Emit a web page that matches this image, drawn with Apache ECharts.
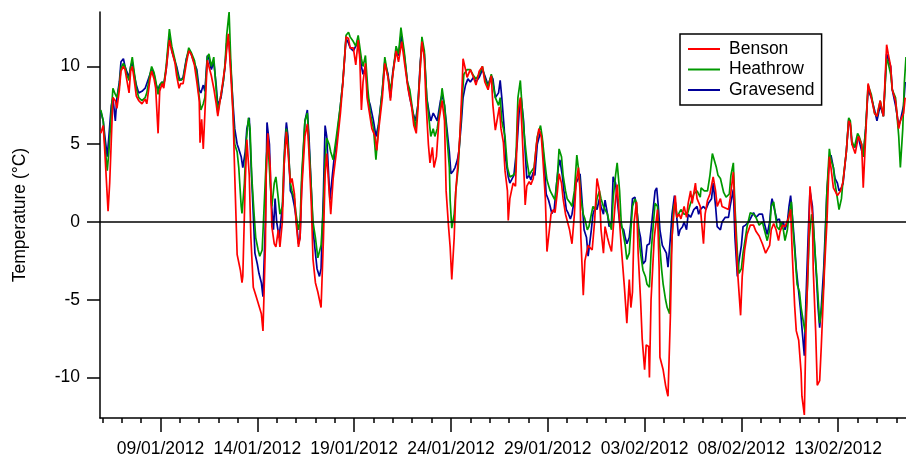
<!DOCTYPE html>
<html><head><meta charset="utf-8">
<script src="https://cdn.jsdelivr.net/npm/echarts/dist/echarts.min.js"></script>
<style>html,body{margin:0;padding:0;background:#fff}#chart{width:906px;height:458px}</style>
</head><body><div id="chart"></div>
<script>
// hour 0 = 05/01/2012 21:00 (UTC); pairs are [hours since start, temperature °C]
const startYear = 2012, startMonth = 0, startDay = 5, startHour = 21;
const endHour = 999;
const seriesNames = ['Benson', 'Heathrow', 'Gravesend'];

const benson = [[1,5.7],[4,6.2],[6,4.5],[10,0.7],[12,2.5],[16,8.0],[19,7.8],[21,7.3],[24,8.5],[26,9.7],[29,10.0],[31,9.8],[33,9.2],[36,8.3],[38,9.7],[40,10.0],[42,9.3],[45,8.1],[48,7.8],[52,7.6],[56,7.9],[58,7.6],[62,9.2],[64,9.7],[67,9.2],[69,8.6],[72,5.7],[74,8.4],[77,8.9],[79,8.6],[82,9.8],[86,11.7],[89,11.0],[93,10.2],[95,9.4],[98,8.6],[100,8.9],[103,8.9],[107,10.2],[110,11.0],[113,10.8],[117,10.1],[120,9.0],[123,7.8],[124,5.1],[126,6.6],[128,4.7],[130,7.0],[133,10.4],[135,10.0],[138,9.4],[141,8.6],[144,7.6],[146,6.8],[150,8.2],[153,9.3],[155,10.0],[159,12.1],[161,10.5],[165,6.8],[167,3.0],[170,-2.1],[174,-3.1],[176,-3.9],[177,-3.5],[180,2.5],[182,5.3],[185,3.0],[187,-1.0],[190,-4.2],[193,-4.7],[196,-5.2],[200,-5.9],[202,-7.0],[205,-1.5],[206,3.0],[208,5.7],[211,3.5],[213,-0.3],[216,-1.4],[218,-1.6],[221,-0.5],[223,-1.6],[226,0.0],[228,3.5],[231,5.8],[233,4.5],[236,2.5],[238,2.8],[241,1.8],[243,0.0],[246,-1.6],[248,-1.0],[250,2.0],[254,5.5],[257,6.3],[259,4.5],[262,1.0],[264,-2.4],[267,-3.9],[270,-4.5],[274,-5.5],[277,-1.0],[279,3.0],[281,4.4],[284,2.0],[286,0.5],[289,2.8],[293,4.5],[298,7.0],[301,8.9],[305,11.9],[308,11.8],[310,11.2],[314,11.2],[317,10.1],[320,11.7],[322,10.5],[324,7.2],[326,9.0],[329,10.2],[331,8.0],[334,7.0],[337,6.0],[341,5.5],[343,4.6],[346,6.2],[350,8.0],[353,10.2],[357,9.3],[360,7.8],[363,9.5],[367,11.0],[370,10.3],[374,11.6],[378,10.0],[382,8.5],[386,7.5],[389,6.2],[392,5.7],[394,7.2],[397,10.0],[399,11.6],[402,10.5],[404,7.8],[407,5.0],[409,3.8],[412,4.8],[414,3.5],[417,4.2],[420,6.5],[424,7.8],[427,6.5],[429,2.0],[432,-0.3],[434,-1.6],[436,-3.7],[439,-1.0],[441,2.0],[444,4.0],[446,5.5],[449,9.0],[450,10.5],[453,9.8],[455,9.3],[459,9.8],[463,9.3],[466,8.8],[470,9.7],[474,10.0],[477,9.0],[481,8.5],[485,9.4],[487,7.5],[490,5.9],[492,6.5],[495,7.4],[497,6.0],[500,5.1],[502,3.3],[505,2.0],[506,0.1],[508,1.5],[512,2.5],[515,2.3],[518,7.0],[521,8.0],[523,6.0],[526,2.5],[527,1.1],[529,2.3],[532,2.6],[534,2.4],[537,2.8],[541,5.0],[544,6.0],[547,5.5],[549,4.0],[552,1.5],[554,-1.9],[557,-0.5],[559,0.5],[562,0.8],[564,0.6],[567,2.0],[569,3.1],[572,2.5],[574,1.5],[577,0.5],[579,0.6],[582,-0.5],[585,-1.4],[588,0.5],[590,2.5],[593,3.5],[595,2.0],[596,-1.0],[599,-4.7],[601,-2.5],[605,-1.5],[610,-1.8],[613,0.0],[616,2.8],[619,2.0],[621,-0.5],[624,-2.0],[626,-0.3],[629,-1.0],[631,-1.4],[634,-1.9],[636,-0.5],[639,1.5],[641,2.4],[644,0.0],[646,-1.5],[647,-2.2],[650,-4.2],[653,-6.5],[656,-3.7],[658,-5.5],[660,-4.5],[662,0.0],[665,1.3],[667,-2.0],[670,-5.0],[672,-7.5],[675,-9.5],[677,-7.9],[680,-8.0],[681,-10.0],[683,-5.0],[687,-1.0],[691,0.8],[693,-3.0],[694,-8.7],[698,-9.5],[701,-10.5],[703,-11.0],[704,-11.2],[707,-6.0],[709,-1.0],[713,1.7],[715,0.3],[718,0.5],[720,0.2],[724,1.0],[727,0.3],[729,1.2],[732,2.0],[734,1.2],[738,2.5],[740,1.5],[744,1.0],[748,-1.4],[750,0.5],[753,1.4],[756,1.8],[760,2.9],[763,2.0],[765,1.0],[769,1.5],[771,1.0],[775,0.9],[779,0.8],[781,1.5],[785,3.2],[787,0.5],[790,-3.0],[794,-6.0],[796,-3.5],[799,-1.8],[802,-0.8],[806,-0.2],[810,-0.2],[813,-0.6],[817,-0.9],[821,-1.4],[825,-2.0],[827,-2.1],[830,-1.5],[832,-0.5],[835,-0.1],[838,-0.5],[841,-1.2],[843,-0.6],[846,-0.2],[849,-0.3],[853,0.2],[856,0.8],[858,-2.0],[861,-5.4],[863,-7.0],[866,-7.6],[869,-9.7],[870,-11.2],[873,-12.4],[875,-7.0],[878,-2.0],[880,2.3],[883,0.5],[884,-3.0],[887,-7.0],[889,-10.5],[892,-10.2],[894,-8.0],[898,-3.0],[901,0.0],[904,4.2],[906,3.5],[909,2.2],[911,2.0],[914,1.7],[918,2.0],[921,2.6],[925,4.5],[928,6.5],[930,6.3],[932,5.0],[936,4.4],[940,5.5],[944,5.0],[946,2.2],[949,5.5],[952,8.9],[956,8.0],[960,7.0],[963,6.8],[967,7.8],[971,6.8],[975,11.4],[977,10.8],[980,10.0],[982,8.5],[986,7.8],[990,6.0],[992,6.5],[996,7.0],[998,8.0]];

const heathrow = [[1,7.2],[4,6.5],[6,5.0],[9,3.3],[11,4.5],[14,7.0],[16,8.6],[19,8.2],[21,8.0],[24,8.8],[26,9.9],[29,10.2],[31,10.0],[33,9.5],[36,9.1],[38,10.0],[40,10.6],[42,9.8],[45,8.6],[48,8.0],[52,7.8],[56,8.0],[58,8.3],[62,9.5],[64,10.0],[67,9.6],[69,9.1],[72,8.2],[74,8.8],[77,9.0],[79,8.8],[82,10.0],[86,12.4],[89,11.3],[93,10.4],[95,9.8],[98,9.1],[100,9.0],[103,9.2],[107,10.4],[110,11.2],[113,10.9],[117,10.4],[120,9.5],[123,8.0],[125,7.2],[128,7.6],[130,8.0],[133,10.6],[135,10.8],[138,10.0],[141,10.6],[144,8.5],[146,7.0],[150,8.2],[153,9.1],[155,10.2],[157,12.0],[160,13.5],[162,10.5],[165,7.0],[167,5.0],[170,4.5],[172,3.5],[175,1.0],[176,0.55],[179,2.5],[181,5.0],[184,6.7],[186,6.0],[188,3.0],[191,0.5],[193,-1.0],[196,-1.8],[198,-2.2],[201,-1.8],[203,0.5],[206,4.0],[208,5.3],[211,2.5],[213,1.0],[216,2.5],[218,2.9],[221,1.5],[223,0.5],[226,1.0],[228,4.0],[231,6.0],[233,5.0],[236,2.5],[238,2.0],[241,1.5],[243,0.5],[246,-0.5],[248,0.0],[250,3.0],[254,6.5],[257,7.0],[259,5.0],[262,2.0],[264,0.0],[267,-1.0],[270,-2.3],[274,-1.5],[277,1.0],[279,4.0],[281,5.4],[284,5.0],[286,4.5],[289,4.0],[293,5.5],[298,7.5],[301,9.0],[305,12.0],[308,12.2],[310,11.9],[314,11.6],[317,11.3],[320,12.0],[324,10.5],[326,10.0],[329,10.7],[332,8.5],[335,7.0],[339,6.0],[342,4.0],[345,6.0],[350,8.5],[353,10.6],[357,9.3],[360,8.5],[363,9.5],[367,11.3],[370,10.8],[373,12.5],[377,11.0],[381,9.0],[384,8.5],[388,7.0],[391,6.0],[394,7.5],[397,10.0],[399,11.9],[402,11.0],[405,8.0],[408,6.5],[410,5.5],[413,6.0],[415,5.5],[418,6.0],[422,7.5],[424,8.6],[427,7.5],[430,5.5],[433,3.5],[434,1.4],[436,-0.4],[439,0.5],[441,2.0],[444,3.5],[446,5.5],[449,8.0],[451,9.5],[455,9.8],[459,9.8],[463,9.4],[466,9.2],[470,9.5],[474,10.0],[477,9.2],[481,8.7],[485,9.5],[487,9.6],[490,8.0],[494,7.5],[496,8.0],[498,6.5],[502,5.5],[505,3.5],[508,2.9],[512,3.0],[515,3.2],[518,8.0],[521,9.1],[523,7.5],[526,5.5],[529,4.0],[532,3.0],[534,3.2],[538,3.5],[542,5.5],[546,6.2],[548,5.5],[551,4.0],[554,2.7],[558,2.0],[562,1.6],[564,1.4],[567,3.0],[569,4.7],[572,4.2],[574,3.0],[577,2.0],[579,1.5],[583,1.2],[585,1.0],[588,2.0],[591,4.3],[594,3.0],[596,1.5],[599,0.5],[601,0.2],[604,-0.5],[606,-0.3],[609,0.5],[611,1.0],[614,0.8],[616,1.5],[619,2.0],[621,1.5],[624,1.0],[626,0.8],[629,0.5],[631,0.0],[634,-0.5],[636,1.5],[639,3.0],[641,3.8],[644,2.0],[646,0.0],[649,-0.9],[651,-1.5],[653,-2.4],[656,-2.0],[658,-0.5],[660,1.0],[663,1.5],[665,1.2],[668,-1.0],[670,-2.0],[673,-3.1],[676,-3.5],[678,-4.0],[681,-4.2],[683,-2.0],[686,0.0],[688,1.2],[691,1.0],[693,-1.0],[696,-3.0],[698,-4.0],[701,-5.0],[703,-5.5],[706,-5.9],[708,-2.0],[711,1.0],[713,1.3],[715,0.3],[718,0.6],[720,0.8],[724,0.5],[728,0.5],[732,1.2],[736,1.8],[740,2.0],[744,1.6],[745,2.2],[749,2.0],[753,2.0],[756,3.0],[759,4.4],[761,4.3],[764,3.5],[766,3.0],[769,2.8],[773,1.9],[776,1.6],[780,1.8],[782,3.0],[785,3.8],[787,1.0],[790,-2.0],[792,-3.3],[795,-3.0],[797,-2.0],[800,-1.0],[802,-0.3],[806,0.6],[810,0.5],[813,0.3],[817,-0.2],[821,0.0],[825,-0.8],[827,-1.2],[830,-0.5],[832,1.0],[835,1.3],[837,0.5],[839,-0.3],[842,-0.5],[844,0.0],[847,-0.5],[849,-1.2],[852,-0.5],[854,0.5],[857,1.3],[859,-0.5],[862,-2.5],[864,-4.0],[867,-4.5],[869,-5.5],[872,-6.5],[874,-7.1],[877,-4.0],[879,-1.0],[882,0.5],[884,0.0],[887,-2.5],[889,-4.0],[892,-6.5],[894,-5.8],[897,-4.0],[899,-1.0],[901,2.0],[904,4.7],[906,4.0],[909,3.5],[911,2.5],[914,1.5],[916,0.8],[919,1.5],[921,2.7],[925,4.5],[928,6.7],[930,6.5],[932,5.2],[935,4.8],[939,5.7],[941,5.5],[944,5.0],[946,4.2],[949,6.0],[952,8.8],[956,8.2],[960,7.0],[963,6.8],[967,7.8],[971,6.8],[975,10.5],[977,10.2],[980,9.5],[982,8.5],[986,8.0],[990,5.5],[992,3.5],[995,6.0],[997,9.0],[999,10.6]];

const gravesend = [[1,7.1],[4,6.5],[6,5.5],[9,4.2],[11,5.5],[14,7.5],[16,8.0],[19,6.5],[21,8.0],[24,9.0],[26,10.3],[29,10.5],[31,10.0],[33,9.7],[36,9.3],[38,10.0],[40,10.3],[42,9.6],[45,8.8],[48,8.3],[52,8.4],[56,8.6],[58,8.6],[62,9.5],[64,9.8],[67,9.5],[69,8.9],[72,8.5],[74,8.8],[77,9.0],[79,8.8],[82,9.8],[86,12.0],[89,11.0],[93,10.3],[95,10.0],[98,9.3],[100,9.1],[103,9.3],[107,10.5],[110,11.0],[113,10.8],[117,10.2],[120,9.8],[123,8.5],[125,8.3],[128,8.8],[130,8.4],[133,10.7],[135,10.5],[138,9.8],[141,10.3],[144,8.8],[146,7.5],[150,8.0],[153,9.1],[155,10.0],[157,11.5],[160,11.6],[162,10.0],[165,7.5],[167,6.0],[170,5.0],[172,4.7],[175,4.2],[177,3.5],[180,4.5],[182,6.0],[185,6.7],[187,4.0],[190,0.5],[192,-2.0],[195,-2.7],[197,-3.3],[200,-3.9],[202,-4.8],[205,0.0],[207,6.4],[210,5.0],[212,1.5],[215,-0.5],[217,1.5],[219,0.0],[222,-1.0],[224,0.0],[227,1.5],[229,5.0],[231,6.4],[233,5.5],[236,2.0],[238,1.8],[241,1.0],[243,0.3],[246,-1.4],[248,-1.0],[250,2.5],[254,6.5],[257,7.2],[259,5.5],[262,2.0],[264,-0.5],[267,-2.0],[269,-3.0],[272,-3.5],[274,-3.0],[277,2.0],[279,6.2],[281,5.5],[285,1.4],[288,3.0],[290,4.0],[294,5.5],[298,7.5],[301,9.0],[305,11.8],[308,11.5],[310,11.2],[314,11.0],[317,11.3],[320,11.6],[324,10.0],[326,9.5],[329,10.0],[332,8.0],[335,7.5],[339,6.5],[342,5.5],[345,6.2],[350,8.5],[353,10.3],[357,9.5],[360,8.0],[363,9.7],[367,11.0],[370,10.7],[373,12.0],[377,10.8],[381,9.0],[384,8.0],[388,7.0],[391,6.5],[394,7.5],[397,10.3],[399,11.4],[402,10.8],[405,8.0],[408,7.0],[410,6.5],[413,7.0],[415,6.8],[418,6.5],[422,7.8],[424,8.2],[427,7.5],[430,6.0],[433,4.5],[435,3.1],[438,3.3],[440,3.5],[443,4.0],[445,4.6],[448,6.5],[450,8.0],[453,8.8],[456,9.2],[459,9.0],[463,9.3],[466,9.0],[470,9.3],[474,9.8],[477,9.4],[481,8.8],[485,9.4],[487,9.2],[490,8.0],[494,8.3],[496,9.1],[498,8.0],[501,6.0],[503,4.0],[506,2.9],[508,2.5],[511,2.8],[513,3.0],[517,5.0],[520,7.5],[522,8.0],[525,6.5],[527,4.5],[529,2.8],[532,3.0],[534,2.7],[537,3.2],[539,3.0],[542,5.0],[546,5.8],[548,5.3],[551,3.5],[553,1.8],[556,1.4],[558,1.0],[560,0.55],[563,0.8],[565,2.0],[568,3.5],[570,4.0],[573,3.0],[575,2.0],[578,0.8],[580,0.6],[583,0.2],[585,0.5],[588,1.5],[590,2.5],[593,2.8],[595,3.1],[598,1.0],[600,-0.5],[603,-1.0],[605,-2.2],[606,-2.2],[609,-0.5],[611,0.5],[614,1.0],[616,0.8],[619,1.5],[621,1.0],[624,0.5],[626,1.4],[629,0.5],[631,-0.3],[634,0.0],[636,2.9],[639,2.5],[641,1.5],[644,0.0],[646,-0.3],[649,-0.5],[651,-1.0],[653,-1.4],[656,-1.0],[658,0.0],[660,1.5],[663,1.6],[665,1.0],[668,-0.5],[670,-1.0],[673,-2.7],[676,-2.5],[678,-1.5],[681,-1.4],[683,-0.5],[686,1.0],[688,2.0],[690,2.2],[692,1.0],[694,-0.5],[697,-1.5],[699,-1.4],[702,-2.0],[704,-2.9],[707,-1.0],[709,0.5],[712,1.7],[714,0.8],[717,-0.9],[719,-0.5],[722,-0.3],[724,0.0],[727,-0.5],[729,0.5],[732,0.3],[736,0.8],[740,1.0],[742,0.5],[744,0.8],[748,1.0],[751,0.8],[754,1.2],[758,1.5],[760,2.5],[763,1.0],[765,-0.3],[769,-0.5],[771,0.0],[775,0.3],[779,0.3],[781,1.0],[785,2.1],[787,-1.0],[790,-3.5],[792,-2.5],[795,-1.5],[797,-0.3],[800,-0.2],[804,0.0],[806,0.1],[810,0.6],[813,0.3],[817,0.5],[821,0.5],[823,0.0],[827,-0.8],[830,0.0],[832,1.2],[833,1.5],[836,0.8],[839,0.1],[842,0.2],[844,-0.3],[847,0.0],[849,-0.5],[852,0.0],[854,1.0],[856,1.7],[858,0.5],[861,-1.5],[863,-3.0],[866,-4.5],[868,-5.5],[870,-6.8],[873,-8.6],[875,-5.0],[878,-0.5],[880,2.0],[883,1.0],[885,-1.0],[888,-3.5],[890,-5.5],[892,-6.8],[894,-5.5],[897,-3.0],[899,-0.5],[901,2.0],[904,4.0],[906,4.3],[909,3.5],[911,2.8],[914,2.5],[916,2.0],[919,2.2],[921,2.5],[925,4.5],[928,6.6],[930,6.2],[932,5.0],[936,4.8],[940,5.5],[942,5.0],[946,4.2],[949,6.0],[952,8.5],[956,8.0],[960,7.2],[963,6.5],[967,7.5],[971,6.8],[975,10.8],[977,10.5],[980,10.0],[982,8.5],[986,7.5],[990,6.2],[992,6.5],[996,7.5],[998,9.0]];

const yTickValues = [-10, -5, 0, 5, 10];
const xLabelDates = ['09/01/2012','14/01/2012','19/01/2012','24/01/2012','29/01/2012','03/02/2012','08/02/2012','13/02/2012'];
const firstMinorDate = '06/01/2012', lastMinorDate = '16/02/2012';

const HOUR = 3600000, DAY = 86400000;
const startMs = Date.UTC(startYear, startMonth, startDay, startHour);
function parseDMY(s){ const p = s.split('/').map(Number); return Date.UTC(p[2], p[1]-1, p[0]); }
function fmt(v){ const d = new Date(v); const z = n => (n<10?'0':'')+n; return z(d.getUTCDate())+'/'+z(d.getUTCMonth()+1)+'/'+d.getUTCFullYear(); }
const toData = arr => arr.map(p => [startMs + p[0]*HOUR, p[1]]);
const majorTicks = xLabelDates.map(parseDMY);
const minorTicks = [];
for (let t = parseDMY(firstMinorDate); t <= parseDMY(lastMinorDate); t += DAY) minorTicks.push(t);

const FONT = "'Liberation Sans', Arial, Helvetica, sans-serif";
const colors = {Benson:'#ff0000', Heathrow:'#009900', Gravesend:'#000099'};
const dataMap = {Benson: benson, Heathrow: heathrow, Gravesend: gravesend};
const drawOrder = ['Gravesend', 'Heathrow', 'Benson'];

const chart = echarts.init(document.getElementById('chart'), null, {renderer:'canvas'});
const xMin = startMs, xMax = startMs + endHour*HOUR;
chart.setOption({
  animation: false,
  backgroundColor: '#ffffff',
  textStyle: {fontFamily: FONT},
  grid: {left: 100, right: 0, top: 12, bottom: 40, containLabel: false},
  legend: {
    data: seriesNames.map(n => ({name: n, icon: 'rect'})),
    orient: 'vertical',
    left: 680, top: 34,
    padding: [6, 7, 6, 8],
    itemGap: 2.5,
    itemWidth: 32, itemHeight: 2,
    borderColor: '#000', borderWidth: 1.5, borderRadius: 0,
    backgroundColor: '#fff',
    textStyle: {fontSize: 17.5, color: '#000', fontFamily: FONT, padding: [0,0,0,4]}
  },
  xAxis: [{
    type: 'value', min: xMin, max: xMax, position: 'bottom',
    axisLine: {show: true, onZero: false, lineStyle: {color: '#000', width: 1.5}},
    axisTick: {show: true, inside: false, length: 14, customValues: majorTicks, lineStyle: {color: '#000', width: 1.5}},
    axisLabel: {show: true, customValues: majorTicks, formatter: fmt, fontSize: 17.5, color: '#000', margin: 22, fontFamily: FONT},
    splitLine: {show: false}
  }, {
    type: 'value', min: xMin, max: xMax, position: 'bottom',
    axisLine: {show: false, onZero: false},
    axisTick: {show: true, inside: false, length: 5, customValues: minorTicks, lineStyle: {color: '#000', width: 1.5}},
    axisLabel: {show: false},
    splitLine: {show: false}
  }],
  yAxis: {
    type: 'value', min: -12.6, max: 13.5,
    name: 'Temperature (°C)', nameLocation: 'middle', nameGap: 71,
    nameTextStyle: {fontSize: 17.5, color: '#000', fontFamily: FONT},
    axisLine: {show: true, onZero: false, lineStyle: {color: '#000', width: 1.5}},
    axisTick: {show: true, inside: false, length: 13, customValues: yTickValues, lineStyle: {color: '#000', width: 1.5}},
    axisLabel: {show: true, customValues: yTickValues, fontSize: 17.5, color: '#000', margin: 20, fontFamily: FONT},
    splitLine: {show: false}
  },
  series: drawOrder.map((name, k) => ({
    name: name, type: 'line', xAxisIndex: 0,
    data: toData(dataMap[name]),
    symbol: 'none', showSymbol: false, smooth: false, clip: true,
    lineStyle: {color: colors[name], width: 1.7},
    itemStyle: {color: colors[name]},
    markLine: k === 0 ? {
      silent: true, symbol: ['none','none'], label: {show: false},
      lineStyle: {color: '#000', width: 1.5, type: 'solid'},
      emphasis: {disabled: true},
      data: [{yAxis: 0}]
    } : undefined
  }))
});
</script>
</body></html>
